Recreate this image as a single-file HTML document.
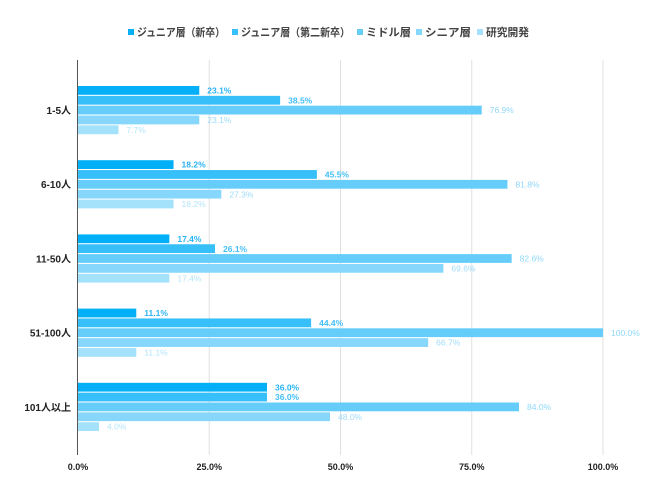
<!DOCTYPE html>
<html><head><meta charset="utf-8"><style>
body{margin:0;background:#fff;}
svg{display:block;font-family:"Liberation Sans","Noto Sans CJK JP",sans-serif;}
</style></head><body>
<svg id="c" width="650" height="502"></svg>
<script>
const categories=["1-5人","6-10人","11-50人","51-100人","101人以上"];
const seriesNames=["ジュニア層（新卒）","ジュニア層（第二新卒）","ミドル層","シニア層","研究開発"];
const s0=[23.1,18.2,17.4,11.1,36.0];
const s1=[38.5,45.5,26.1,44.4,36.0];
const s2=[76.9,81.8,82.6,100.0,84.0];
const s3=[23.1,27.3,69.6,66.7,48.0];
const s4=[7.7,18.2,17.4,11.1,4.0];
const ticks=[0,25,50,75,100];
const series=[s0,s1,s2,s3,s4];
const colors=["#03b0f7","#37bff9","#66cdfa","#86d7fb","#a4e1fb"];
const labelColors=["#2ab4f5","#44bff7","#8fd8fb","#9fdcfb","#b3e5fb"];
const NS="http://www.w3.org/2000/svg";
const svg=document.getElementById('c');
const x0=78,x1=603,plotTop=60,plotBottom=455,g0=110,gp=74.2;
const xs=v=>x0+(x1-x0)*v/100;
const ys=i=>g0+gp*i;
function mk(t,a){const e=document.createElementNS(NS,t);for(const k in a)e.setAttribute(k,a[k]);svg.appendChild(e);return e;}
ticks.forEach((t,i)=>{
  if(i>0){const l=mk('line',{x1:xs(t),x2:xs(t),y1:plotTop,y2:plotBottom,stroke:'#e0e0e0','stroke-width':1});
  
  }
  const tx=mk('text',{x:xs(t),y:470,'text-anchor':'middle','font-size':9,'font-weight':'bold',fill:'#222'});
  tx.textContent=t.toFixed(1)+'%';
  
  
});
const ax=mk('line',{x1:x0-0.5,x2:x0-0.5,y1:plotTop,y2:plotBottom,stroke:'#555','stroke-width':1});


categories.forEach((c,i)=>{
  const t=mk('text',{x:71,y:ys(i)+4,'text-anchor':'end','font-size':10,'font-weight':'bold',fill:'#222'});
  t.textContent=c;
  
  
  series.forEach((s,j)=>{
    const y=ys(i)-24+j*9.85;
    const r=mk('rect',{x:x0,y:y,width:xs(s[i])-x0,height:8.8,fill:colors[j]});
    
    
    const l=mk('text',{x:xs(s[i])+8,y:y+7.5,'font-size':8.5,'font-weight':j<2?'bold':'normal',fill:labelColors[j]});
    l.textContent=s[i].toFixed(1)+'%';
    
    
  });
});
const legendX=[128,232,357,416,477];
const legendW=[88,109,45,46,43];
seriesNames.forEach((n,j)=>{
  const r=mk('rect',{x:legendX[j],y:29,width:6,height:6,fill:colors[j]});
  
  
  const t=mk('text',{x:legendX[j]+9,y:36,'font-size':11,'font-weight':'bold',fill:'#444',textLength:legendW[j],lengthAdjust:'spacingAndGlyphs'});
  t.textContent=n;
  
  
});
</script>
</body></html>
